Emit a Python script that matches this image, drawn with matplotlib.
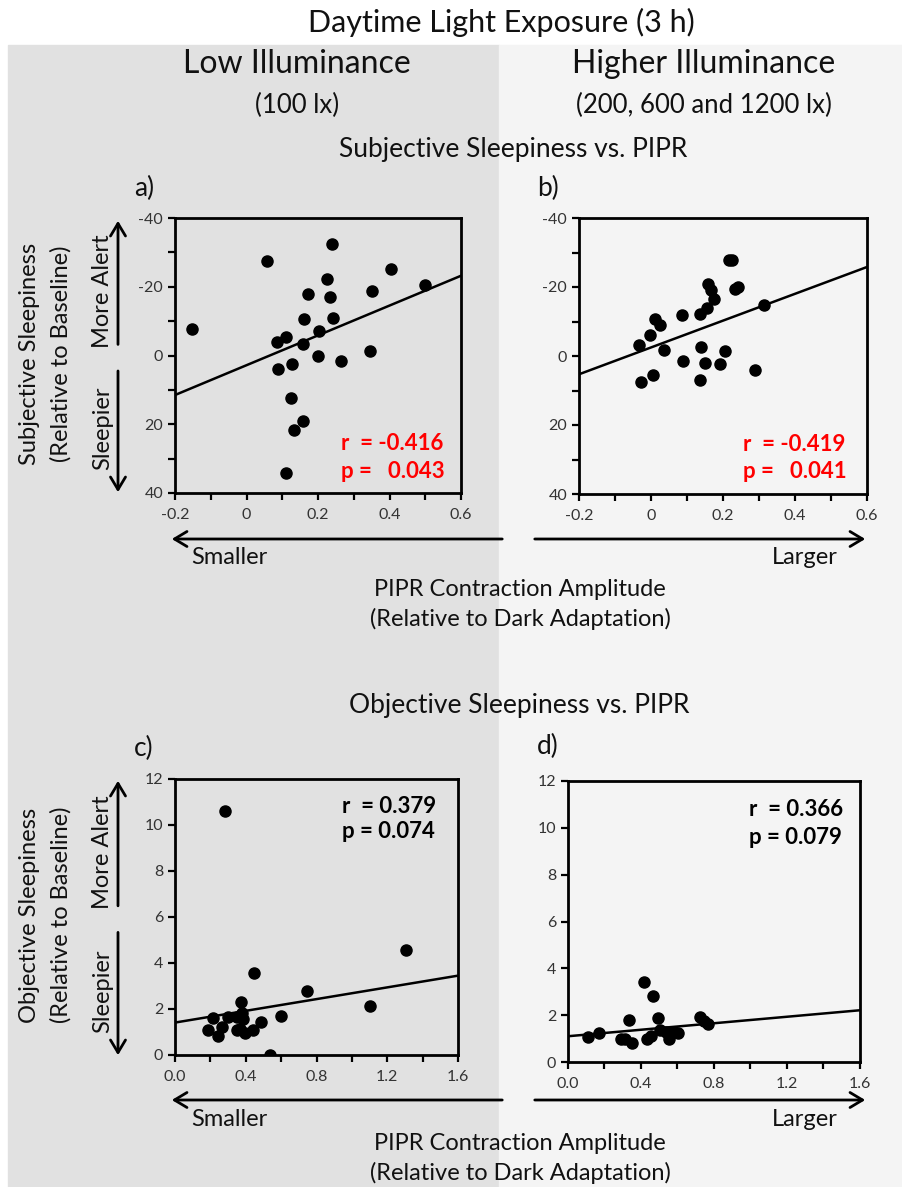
import matplotlib
matplotlib.use("Agg")
import matplotlib.pyplot as plt
from matplotlib.patches import Rectangle
import numpy as np

plt.rcParams['font.family'] = ['Lato', 'DejaVu Sans']
plt.rcParams['axes.unicode_minus'] = False

# ---- data ----
# a) subjective sleepiness vs PIPR, low illuminance
a_x = [-0.153, 0.058, 0.239, 0.404, 0.498, 0.225, 0.173, 0.233, 0.352, 0.160, 0.243, 0.203,
       0.110, 0.084, 0.159, 0.201, 0.345, 0.264, 0.087, 0.127, 0.124, 0.157, 0.133, 0.110]
a_y = [-7.6, -27.4, -32.4, -25.3, -20.4, -22.3, -18.0, -17.0, -18.7, -10.6, -11.0, -7.0,
       -5.3, -3.9, -3.3, 0.0, -1.2, 1.7, 3.8, 2.6, 12.5, 19.1, 21.8, 34.1]
a_fit_x = [-0.2, 0.6]
a_fit_y = [11.5, -23.2]

# b) subjective sleepiness vs PIPR, higher illuminance
b_x = [-0.033, -0.004, 0.011, 0.024, 0.035, -0.027, 0.006, 0.085, 0.088, 0.135, 0.155, 0.139,
       0.150, 0.136, 0.157, 0.167, 0.174, 0.216, 0.225, 0.233, 0.241, 0.193, 0.206, 0.289, 0.314]
b_y = [-3.3, -6.1, -10.6, -9.0, -1.7, 7.4, 5.6, -11.8, 1.4, -12.1, -13.8, -2.5,
       2.0, 7.0, -20.8, -19.1, -16.6, -27.9, -27.7, -19.5, -20.0, 2.2, -1.5, 4.2, -14.7]
b_fit_x = [-0.2, 0.6]
b_fit_y = [5.3, -25.8]

# c) objective sleepiness vs PIPR, low illuminance
c_x = [0.282, 1.308, 0.444, 0.744, 1.101, 0.600, 0.373, 0.537, 0.486, 0.443, 0.396,
       0.349, 0.387, 0.377, 0.349, 0.301, 0.264, 0.245, 0.217, 0.188, 0.367]
c_y = [10.62, 4.57, 3.57, 2.80, 2.13, 1.70, 2.32, 0.00, 1.43, 1.09, 0.97,
       1.09, 1.55, 1.81, 1.67, 1.67, 1.23, 0.83, 1.60, 1.09, 1.12]
c_fit_x = [0.0, 1.6]
c_fit_y = [1.41, 3.45]

# d) objective sleepiness vs PIPR, higher illuminance
d_x = [0.111, 0.172, 0.334, 0.290, 0.349, 0.435, 0.416, 0.466, 0.495, 0.504, 0.537,
       0.555, 0.580, 0.604, 0.723, 0.745, 0.769, 0.455, 0.310]
d_y = [1.06, 1.23, 1.79, 0.97, 0.80, 0.97, 3.41, 2.82, 1.87, 1.37, 1.30,
       0.97, 1.30, 1.23, 1.91, 1.75, 1.62, 1.10, 1.00]
d_fit_x = [0.0, 1.6]
d_fit_y = [1.10, 2.21]

stats = {
    'a': ('r  = -0.416', 'p =   0.043', 'red'),
    'b': ('r  = -0.419', 'p =   0.041', 'red'),
    'c': ('r  = 0.379', 'p = 0.074', 'black'),
    'd': ('r  = 0.366', 'p = 0.079', 'black'),
}

W, H = 903, 1187
fig = plt.figure(figsize=(W / 100, H / 100), dpi=100)


def fx(x):
    return x / W


def fy(y):
    return 1 - y / H


def box(l, t, r, b):
    return [fx(l), fy(b), fx(r) - fx(l), fy(t) - fy(b)]


# background halves
fig.patches.append(Rectangle((fx(8), 0), fx(499) - fx(8), fy(45), transform=fig.transFigure,
                             color='#e1e1e1', zorder=-10))
fig.patches.append(Rectangle((fx(499), 0), 1 - fx(499), fy(45), transform=fig.transFigure,
                             color='#f4f4f4', zorder=-10))

txt = '#111111'
fig.text(fx(501), fy(22), 'Daytime Light Exposure (3 h)', ha='center', va='center', fontsize=22, color=txt)
fig.text(fx(297), fy(64), 'Low Illuminance', ha='center', va='center', fontsize=23, color=txt)
fig.text(fx(297), fy(105), '(100 lx)', ha='center', va='center', fontsize=18.5, color=txt)
fig.text(fx(704), fy(64), 'Higher Illuminance', ha='center', va='center', fontsize=23, color=txt)
fig.text(fx(704), fy(105), '(200, 600 and 1200 lx)', ha='center', va='center', fontsize=18.5, color=txt)
fig.text(fx(513), fy(150), 'Subjective Sleepiness vs. PIPR', ha='center', va='center', fontsize=19, color=txt)
fig.text(fx(519), fy(705), 'Objective Sleepiness vs. PIPR', ha='center', va='center', fontsize=19, color=txt)


def panel(rect, x, y, fx_, fy_, xlim, xmaj, xmin, ylim, ymaj, ymin, key, stat_pos, invert=False):
    ax = fig.add_axes(rect)
    ax.patch.set_alpha(0)
    ax.plot(x, y, 'o', color='black', markersize=8, zorder=3)
    ax.plot(fx_, fy_, '-', color='black', lw=1.8, zorder=2)
    ax.set_xlim(*xlim)
    ax.set_ylim(*ylim)
    if invert:
        ax.invert_yaxis()
    ax.set_xticks(xmaj)
    ax.set_xticks(xmin, minor=True)
    ax.set_yticks(ymaj)
    ax.set_yticks(ymin, minor=True)
    for s in ax.spines.values():
        s.set_linewidth(2)
    ax.tick_params(which='both', direction='out', length=5, width=1.6, colors='black',
                   labelcolor='#333333', labelsize=11.5)
    ax.tick_params(axis='x', pad=6)
    r_t, p_t, col = stats[key]
    ax.text(stat_pos[0], stat_pos[1], r_t, transform=ax.transAxes, fontsize=16,
            fontweight='bold', color=col, ha='left', va='center')
    ax.text(stat_pos[0], stat_pos[2], p_t, transform=ax.transAxes, fontsize=16,
            fontweight='bold', color=col, ha='left', va='center')
    return ax


sub_xt = [-0.2, 0, 0.2, 0.4, 0.6]
sub_xm = [-0.1, 0.1, 0.3, 0.5]
sub_yt = [-40, -20, 0, 20, 40]
sub_ym = [-30, -10, 10, 30]
ax_a = panel(box(175, 218, 461, 493), a_x, a_y, a_fit_x, a_fit_y, (-0.2, 0.6), sub_xt, sub_xm,
             (-40, 40), sub_yt, sub_ym, 'a', (0.58, 0.18, 0.08), invert=True)
ax_a.set_xticklabels(['-0.2', '0', '0.2', '0.4', '0.6'])
ax_a.set_yticklabels(['-40', '-20', '0', '20', '40'])
ax_b = panel(box(579, 218, 867, 494), b_x, b_y, b_fit_x, b_fit_y, (-0.2, 0.6), sub_xt, sub_xm,
             (-40, 40), sub_yt, sub_ym, 'b', (0.57, 0.18, 0.08), invert=True)
ax_b.set_xticklabels(['-0.2', '0', '0.2', '0.4', '0.6'])
ax_b.set_yticklabels(['-40', '-20', '0', '20', '40'])

obj_xt = [0.0, 0.4, 0.8, 1.2, 1.6]
obj_xm = [0.2, 0.6, 1.0, 1.4]
obj_yt = [0, 2, 4, 6, 8, 10, 12]
ax_c = panel(box(175, 779, 458, 1055), c_x, c_y, c_fit_x, c_fit_y, (0, 1.6), obj_xt, obj_xm,
             (0, 12), obj_yt, [], 'c', (0.59, 0.9, 0.81))
ax_d = panel(box(568, 781, 860, 1062), d_x, d_y, d_fit_x, d_fit_y, (0, 1.6), obj_xt, obj_xm,
             (0, 12), obj_yt, [], 'd', (0.62, 0.9, 0.8))
for ax in (ax_c, ax_d):
    ax.set_xticklabels(['0.0', '0.4', '0.8', '1.2', '1.6'])

# panel letters
for lab, (px, py) in {'a)': (144, 188), 'b)': (548, 188), 'c)': (144, 748), 'd)': (548, 746)}.items():
    fig.text(fx(px), fy(py), lab, ha='center', va='center', fontsize=19, color=txt)


def arrow(x0, y0, x1, y1):
    fig.add_artist(matplotlib.patches.FancyArrowPatch(
        (fx(x0), fy(y0)), (fx(x1), fy(y1)), transform=fig.transFigure,
        arrowstyle='->,head_length=0.5,head_width=0.3', mutation_scale=18, lw=2, color='black'))


# y-axis side labels
for top, bot, name in [(218, 495, 'Subjective Sleepiness'), (778, 1058, 'Objective Sleepiness')]:
    mid = (top + bot) / 2 - 3
    fig.text(fx(30), fy(mid), name, rotation=90, ha='center', va='center', fontsize=17, color=txt)
    fig.text(fx(61), fy(mid), '(Relative to Baseline)', rotation=90, ha='center', va='center',
             fontsize=17, color=txt)
    split = top + (bot - top) * 0.47
    arrow(118, split - 1, 118, top)
    arrow(118, split + 20, 118, bot)
    fig.text(fx(103), fy((top + split) / 2 + 8), 'More Alert', rotation=90, ha='center', va='center',
             fontsize=17, color=txt)
    fig.text(fx(103), fy((split + 20 + bot) / 2 - 3), 'Sleepier', rotation=90, ha='center', va='center',
             fontsize=17, color=txt)

# x-axis direction arrows and labels
for ay, sy, l1, l2 in [(539, 558, 590, 619), (1100, 1119, 1144, 1173)]:
    arrow(505, ay, 169, ay)
    arrow(532, ay, 868, ay)
    fig.text(fx(191), fy(sy), 'Smaller', ha='left', va='center', fontsize=17, color=txt)
    fig.text(fx(838), fy(sy), 'Larger', ha='right', va='center', fontsize=17, color=txt)
    fig.text(fx(520), fy(l1), 'PIPR Contraction Amplitude', ha='center', va='center', fontsize=17, color=txt)
    fig.text(fx(520), fy(l2), '(Relative to Dark Adaptation)', ha='center', va='center', fontsize=17, color=txt)

fig.savefig('out.png', dpi=100, facecolor='white')
